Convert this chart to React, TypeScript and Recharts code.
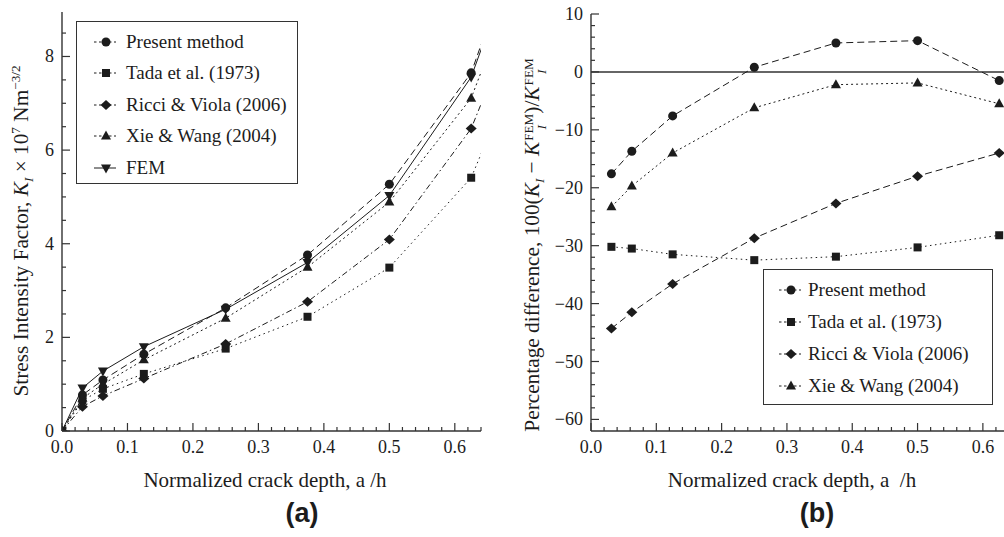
import React from 'react'
import { Legend, Line, LineChart, ReferenceLine, XAxis, YAxis } from 'recharts'

// normalized crack depth a/h (last point lies past the axis end and is clipped)
const depth = [0, 0.03125, 0.0625, 0.125, 0.25, 0.375, 0.5, 0.625, 0.75]
const sifPresent = [0, 0.77, 1.09, 1.64, 2.63, 3.76, 5.27, 7.65, 12.6]
const sifTada = [0, 0.65, 0.9, 1.22, 1.76, 2.44, 3.49, 5.41, 9.6]
const sifRicci = [0, 0.52, 0.75, 1.12, 1.86, 2.76, 4.09, 6.46, 10.8]
const sifXie = [0, 0.7, 1.0, 1.52, 2.41, 3.5, 4.89, 7.11, 11.7]
const sifFem = [0, 0.92, 1.28, 1.8, 2.6, 3.6, 5.03, 7.56, 12.4]

const diffDepth = [0.03125, 0.0625, 0.125, 0.25, 0.375, 0.5, 0.625]
const diffPresent = [-17.6, -13.7, -7.6, 0.8, 5.0, 5.4, -1.5]
const diffTada = [-30.2, -30.5, -31.5, -32.5, -31.9, -30.3, -28.2]
const diffRicci = [-44.3, -41.5, -36.6, -28.7, -22.7, -18.0, -14.0]
const diffXie = [-23.3, -19.7, -14.0, -6.2, -2.2, -1.9, -5.5]

const xMajor = [0, 0.1, 0.2, 0.3, 0.4, 0.5, 0.6]
const sifMajor = [0, 2, 4, 6, 8]
const diffMajor = [-60, -50, -40, -30, -20, -10, 0, 10]

const X_MAX = 0.64
const INK = '#1c1c1c'
const SERIF = '"Liberation Serif", "Times New Roman", Times, "DejaVu Serif", serif'

type Shape = 'circle' | 'square' | 'diamond' | 'up' | 'down'
interface Series {
  key: string
  name: string
  shape: Shape
  dash?: string
}

const sifSeries: Series[] = [
  { key: 'present', name: 'Present method', shape: 'circle', dash: '7 4' },
  { key: 'tada', name: 'Tada et al. (1973)', shape: 'square', dash: '1.5 3.5' },
  { key: 'ricci', name: 'Ricci & Viola (2006)', shape: 'diamond', dash: '6 3 1.5 3' },
  { key: 'xie', name: 'Xie & Wang (2004)', shape: 'up', dash: '2 3' },
  { key: 'fem', name: 'FEM', shape: 'down' },
]

const diffSeries: Series[] = [
  { key: 'present', name: 'Present method', shape: 'circle', dash: '7 4' },
  { key: 'tada', name: 'Tada et al. (1973)', shape: 'square', dash: '1.5 3.5' },
  { key: 'ricci', name: 'Ricci & Viola (2006)', shape: 'diamond', dash: '7 4' },
  { key: 'xie', name: 'Xie & Wang (2004)', shape: 'up', dash: '2 3' },
]

const sifData = depth.map((x, i) => ({
  x,
  present: sifPresent[i],
  tada: sifTada[i],
  ricci: sifRicci[i],
  xie: sifXie[i],
  fem: sifFem[i],
}))

const diffData = diffDepth.map((x, i) => ({
  x,
  present: diffPresent[i],
  tada: diffTada[i],
  ricci: diffRicci[i],
  xie: diffXie[i],
}))

function range(from: number, to: number, step: number): number[] {
  const out: number[] = []
  const n = Math.round((to - from) / step)
  for (let i = 0; i <= n; i++) out.push(+(from + i * step).toFixed(4))
  return out
}

const xTicks = range(0, 0.64, 0.02)
const sifTicks = range(0, 8.5, 0.5)
const diffTicks = range(-60, 10, 2)

const isMajor = (v: number, majors: number[]) => majors.some((m) => Math.abs(m - v) < 1e-6)
const fmtNum = (v: number) => (v < 0 ? `\u2212${Math.abs(v)}` : `${v}`)

function Marker({ shape, cx, cy }: { shape: Shape; cx: number; cy: number }) {
  switch (shape) {
    case 'circle':
      return <circle cx={cx} cy={cy} r={4.5} fill={INK} />
    case 'square':
      return <rect x={cx - 4} y={cy - 4} width={8} height={8} fill={INK} />
    case 'diamond':
      return (
        <polygon
          points={`${cx},${cy - 5} ${cx + 5.5},${cy} ${cx},${cy + 5} ${cx - 5.5},${cy}`}
          fill={INK}
        />
      )
    case 'up':
      return (
        <polygon points={`${cx},${cy - 5.5} ${cx + 5},${cy + 3.5} ${cx - 5},${cy + 3.5}`} fill={INK} />
      )
    default:
      return (
        <polygon points={`${cx},${cy + 5.5} ${cx + 5},${cy - 3.5} ${cx - 5},${cy - 3.5}`} fill={INK} />
      )
  }
}

const dotFor = (shape: Shape) => (p: any) => {
  const key = `dot-${shape}-${p.index}`
  if (p.payload == null || p.payload.x > X_MAX || p.cx == null || p.cy == null) return <g key={key} />
  return (
    <g key={key}>
      <Marker shape={shape} cx={p.cx} cy={p.cy} />
    </g>
  )
}

// inward tick marks; labels only on the major ticks
function TickMark(props: any) {
  const { x, y, payload, side, majors, labelled } = props
  const v = payload.value
  const major = isMajor(v, majors)
  const len = major ? 8 : 4
  let line
  if (side === 'bottom') line = <line x1={x} x2={x} y1={y} y2={y - len} />
  else if (side === 'top') line = <line x1={x} x2={x} y1={y} y2={y + len} />
  else if (side === 'left') line = <line x1={x} x2={x + len} y1={y} y2={y} />
  else line = <line x1={x} x2={x - len} y1={y} y2={y} />
  return (
    <g>
      <g stroke="#333" strokeWidth={1.2}>{line}</g>
      {labelled && major && side === 'bottom' && (
        <text x={x} y={y + 22} textAnchor="middle" fontSize={18} fontFamily={SERIF} fill={INK}>
          {v.toFixed(1)}
        </text>
      )}
      {labelled && major && side === 'left' && (
        <text x={x - 8} y={y + 6} textAnchor="end" fontSize={18} fontFamily={SERIF} fill={INK}>
          {fmtNum(v)}
        </text>
      )}
    </g>
  )
}

function LegendBox({ series, rowTop, rowGap, lineX, textX }: {
  series: Series[]
  rowTop: number
  rowGap: number
  lineX: number
  textX: number
}) {
  return (
    <div
      style={{
        position: 'relative',
        width: '100%',
        height: '100%',
        boxSizing: 'border-box',
        border: '1.4px solid #333',
        background: '#fff',
        fontFamily: SERIF,
        fontSize: 19,
        color: INK,
      }}
    >
      {series.map((s, i) => (
        <div key={s.key} style={{ position: 'absolute', left: 0, top: rowTop + i * rowGap - 12, height: 24, width: '100%' }}>
          <svg width={30} height={24} style={{ position: 'absolute', left: lineX - 2 }}>
            <line x1={2} x2={24} y1={12} y2={12} stroke={INK} strokeWidth={1} strokeDasharray={s.dash ? '2.5 2.5' : undefined} />
            <Marker shape={s.shape} cx={14} cy={12} />
          </svg>
          <span style={{ position: 'absolute', left: textX, top: 0, lineHeight: '24px', whiteSpace: 'nowrap' }}>
            {s.name}
          </span>
        </div>
      ))}
    </div>
  )
}

// centred title box; vertical titles are rotated about their own centre
function Title({ cx, cy, vertical, size = 21, children }: {
  cx: number
  cy: number
  vertical?: boolean
  size?: number
  children: React.ReactNode
}) {
  const w = 480
  const h = 30
  return (
    <div
      style={{
        position: 'absolute',
        left: cx - w / 2,
        top: cy - h / 2,
        width: w,
        height: h,
        lineHeight: `${h}px`,
        textAlign: 'center',
        whiteSpace: 'nowrap',
        fontFamily: SERIF,
        fontSize: size,
        color: INK,
        transform: vertical ? 'rotate(-90deg)' : undefined,
      }}
    >
      {children}
    </div>
  )
}

const panelStyle: React.CSSProperties = {
  position: 'absolute',
  width: 80,
  height: 34,
  lineHeight: '34px',
  textAlign: 'center',
  fontFamily: '"Liberation Sans", Arial, sans-serif',
  fontWeight: 'bold',
  fontSize: 27,
  color: INK,
}

const small: React.CSSProperties = { fontSize: '0.62em', lineHeight: 0 }

function Stack({ top, bottom }: { top: string; bottom: string }) {
  return (
    <span
      style={{
        display: 'inline-flex',
        flexDirection: 'column',
        fontSize: '0.62em',
        lineHeight: 1,
        verticalAlign: '0.45em',
        marginLeft: 1,
      }}
    >
      <span>{top}</span>
      <i>{bottom}</i>
    </span>
  )
}

export default function App() {
  return (
    <div
      style={{
        position: 'fixed',
        left: 0,
        top: 0,
        width: 1004,
        height: 537,
        overflow: 'hidden',
        background: '#fff',
      }}
    >
      {/* (a) stress intensity factor */}
      <div style={{ position: 'absolute', left: 0, top: 0 }}>
        <LineChart width={500} height={470} data={sifData} margin={{ top: 12, right: 19, bottom: 0, left: 0 }}>
          <XAxis
            dataKey="x"
            type="number"
            domain={[0, X_MAX]}
            allowDataOverflow
            ticks={xTicks}
            interval={0}
            height={39}
            tickSize={0}
            tickMargin={0}
            tickLine={false}
            axisLine={{ stroke: '#333', strokeWidth: 1.4 }}
            tick={(p: any) => <TickMark {...p} side="bottom" majors={xMajor} labelled />}
          />
          <XAxis
            xAxisId="top"
            orientation="top"
            type="number"
            domain={[0, X_MAX]}
            allowDataOverflow
            ticks={xTicks}
            interval={0}
            height={0}
            tickSize={0}
            tickMargin={0}
            tickLine={false}
            axisLine={{ stroke: '#333', strokeWidth: 1.4 }}
            tick={(p: any) => <TickMark {...p} side="top" majors={xMajor} />}
          />
          <YAxis
            type="number"
            domain={[0, 8.95]}
            allowDataOverflow
            ticks={sifTicks}
            interval={0}
            width={62}
            tickSize={0}
            tickMargin={0}
            tickLine={false}
            axisLine={{ stroke: '#333', strokeWidth: 1.4 }}
            tick={(p: any) => <TickMark {...p} side="left" majors={sifMajor} labelled />}
          />
          <YAxis
            yAxisId="right"
            orientation="right"
            type="number"
            domain={[0, 8.95]}
            allowDataOverflow
            ticks={sifTicks}
            interval={0}
            width={0}
            tickSize={0}
            tickMargin={0}
            tickLine={false}
            axisLine={{ stroke: '#333', strokeWidth: 1.4 }}
            tick={(p: any) => <TickMark {...p} side="right" majors={sifMajor} />}
          />
          {sifSeries.map((s) => (
            <Line
              key={s.key}
              type="linear"
              dataKey={s.key}
              name={s.name}
              stroke={INK}
              strokeWidth={1}
              strokeDasharray={s.dash}
              dot={dotFor(s.shape)}
              activeDot={false}
              isAnimationActive={false}
            />
          ))}
          <Legend
            layout="vertical"
            align="center"
            verticalAlign="middle"
            wrapperStyle={{ left: 76, top: 21, width: 222, height: 163 }}
            content={() => <LegendBox series={sifSeries} rowTop={19.5} rowGap={31.6} lineX={17} textX={49} />}
          />
        </LineChart>
      </div>

      {/* (b) percentage difference */}
      <div style={{ position: 'absolute', left: 500, top: 0 }}>
        <LineChart width={530} height={470} data={diffData} margin={{ top: 14, right: 21, bottom: 0, left: 0 }}>
          <XAxis
            dataKey="x"
            type="number"
            domain={[0, X_MAX]}
            allowDataOverflow
            ticks={xTicks}
            interval={0}
            height={39}
            tickSize={0}
            tickMargin={0}
            tickLine={false}
            axisLine={{ stroke: '#333', strokeWidth: 1.4 }}
            tick={(p: any) => <TickMark {...p} side="bottom" majors={xMajor} labelled />}
          />
          <XAxis
            xAxisId="top"
            orientation="top"
            type="number"
            domain={[0, X_MAX]}
            allowDataOverflow
            ticks={xTicks}
            interval={0}
            height={0}
            tickSize={0}
            tickMargin={0}
            tickLine={false}
            axisLine={{ stroke: '#333', strokeWidth: 1.4 }}
            tick={(p: any) => <TickMark {...p} side="top" majors={xMajor} />}
          />
          <YAxis
            type="number"
            domain={[-62, 10]}
            allowDataOverflow
            ticks={diffTicks}
            interval={0}
            width={91}
            tickSize={0}
            tickMargin={0}
            tickLine={false}
            axisLine={{ stroke: '#333', strokeWidth: 1.4 }}
            tick={(p: any) => <TickMark {...p} side="left" majors={diffMajor} labelled />}
          />
          <YAxis
            yAxisId="right"
            orientation="right"
            type="number"
            domain={[-62, 10]}
            allowDataOverflow
            ticks={diffTicks}
            interval={0}
            width={0}
            tickSize={0}
            tickMargin={0}
            tickLine={false}
            axisLine={{ stroke: '#333', strokeWidth: 1.4 }}
            tick={(p: any) => <TickMark {...p} side="right" majors={diffMajor} />}
          />
          <ReferenceLine y={0} stroke="#333" strokeWidth={1.5} />
          {diffSeries.map((s) => (
            <Line
              key={s.key}
              type="linear"
              dataKey={s.key}
              name={s.name}
              stroke={INK}
              strokeWidth={1}
              strokeDasharray={s.dash}
              dot={dotFor(s.shape)}
              activeDot={false}
              isAnimationActive={false}
            />
          ))}
          <Legend
            layout="vertical"
            align="center"
            verticalAlign="middle"
            wrapperStyle={{ left: 263, top: 269, width: 230, height: 136 }}
            content={() => <LegendBox series={diffSeries} rowTop={19.5} rowGap={32.3} lineX={15} textX={44} />}
          />
        </LineChart>
      </div>

      {/* axis titles and panel labels */}
      <Title cx={21} cy={231} vertical size={21.3}>
        Stress Intensity Factor, <i>K</i>
        <sub style={small}><i>I</i></sub> × 10<sup style={small}>7</sup> Nm
        <sup style={small}>−3/2</sup>
      </Title>
      <Title cx={265} cy={480}>Normalized crack depth, a /h</Title>
      <div style={{ ...panelStyle, left: 302 - 40, top: 513 - 17 }}>(a)</div>

      <Title cx={532} cy={245} vertical size={21.3}>
        Percentage difference, 100(<i>K</i>
        <sub style={small}><i>I</i></sub> − <i>K</i>
        <Stack top="FEM" bottom="I" />)/<i>K</i>
        <Stack top="FEM" bottom="I" />
      </Title>
      <Title cx={792} cy={480}>Normalized crack depth, a &nbsp;/h</Title>
      <div style={{ ...panelStyle, left: 817 - 40, top: 513 - 17 }}>(b)</div>
    </div>
  )
}
